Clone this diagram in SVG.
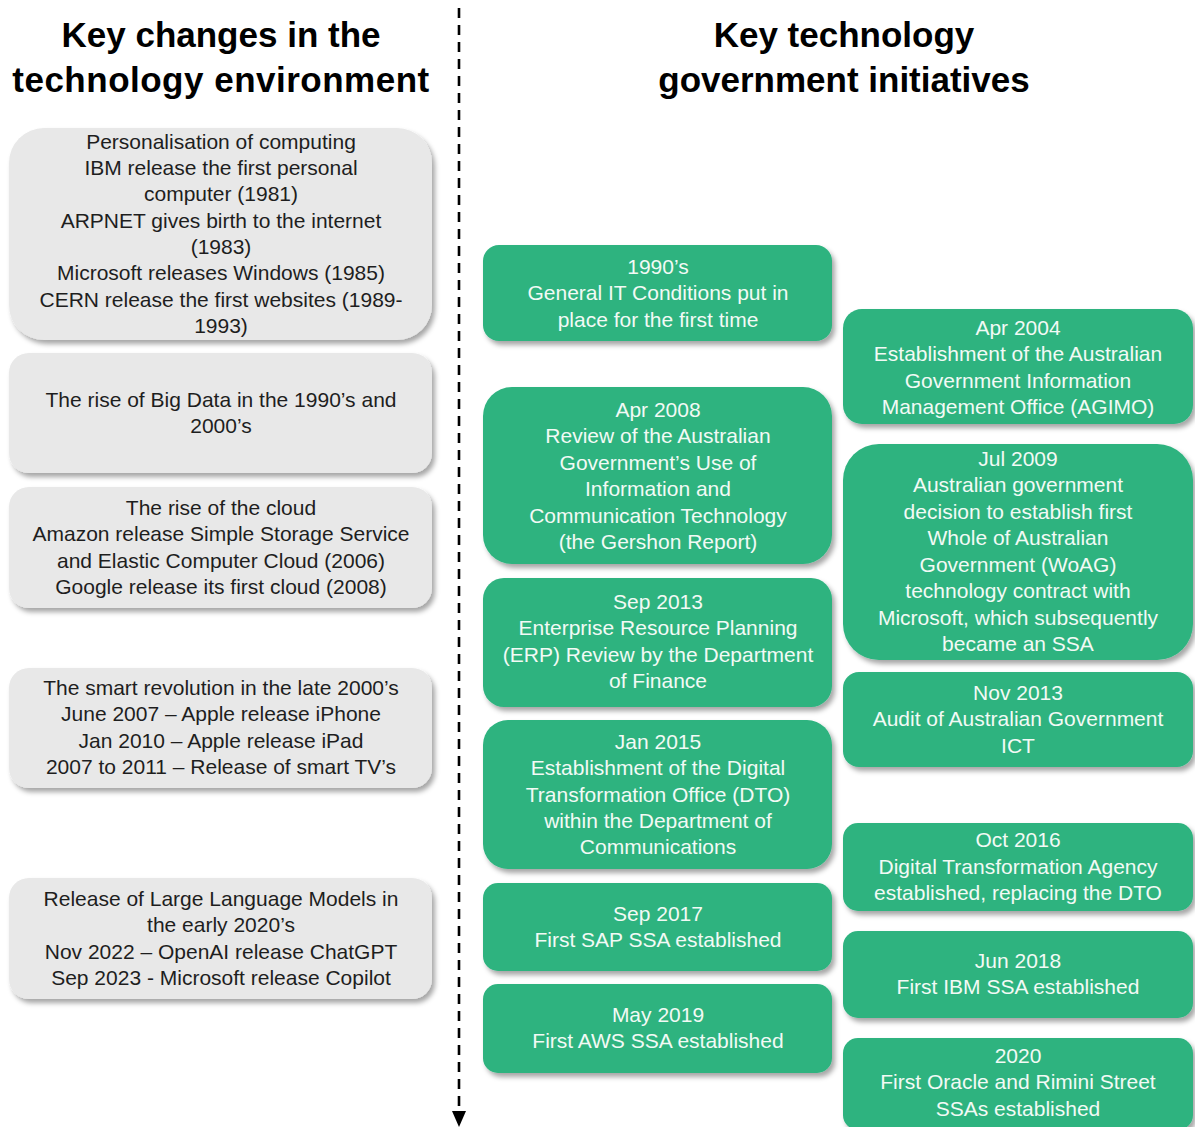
<svg xmlns="http://www.w3.org/2000/svg" width="1195" height="1127" viewBox="0 0 1195 1127">
  <defs>
    <filter id="shadow" x="-10%" y="-10%" width="125%" height="130%">
      <feDropShadow dx="3" dy="4" stdDeviation="2.5" flood-color="#000" flood-opacity="0.35"/>
    </filter>
    <marker id="arrow" viewBox="0 0 16 14" refX="16" refY="7" markerWidth="16" markerHeight="14" markerUnits="userSpaceOnUse" orient="auto">
      <path d="M0,0 L16,7 L0,14 Z" fill="#000"/>
    </marker>
  </defs>
  <style>
    .title { font-family: "Liberation Sans", Arial, sans-serif; font-weight: bold; font-size: 35px; fill: #000; text-anchor: middle; }
    .env rect { fill: #e8e8e8; filter: url(#shadow); }
    .env text { font-family: "Liberation Sans", Arial, sans-serif; font-size: 21px; fill: #1e1e1e; text-anchor: middle; }
    .gov rect { fill: #2db37f; filter: url(#shadow); }
    .gov text { font-family: "Liberation Sans", Arial, sans-serif; font-size: 21px; fill: #f2faf5; text-anchor: middle; }
  </style>
  <rect width="1195" height="1127" fill="#fff"/>

  <!-- column headings -->
  <g id="heading-left">
    <text class="title" x="221" y="47">Key changes in the</text>
    <text class="title" x="221" y="92" letter-spacing="0.5">technology environment</text>
  </g>
  <g id="heading-right">
    <text class="title" x="844" y="47">Key technology</text>
    <text class="title" x="844" y="92">government initiatives</text>
  </g>

  <!-- timeline axis -->
  <g id="connectors">
    <line x1="459" y1="8" x2="459" y2="1127" stroke="#000" stroke-width="2.6" stroke-dasharray="10 7" marker-end="url(#arrow)"/>
  </g>

  <!-- technology environment changes -->
  <g id="env-personal-computing" class="env">
    <rect x="9" y="128" width="423" height="212" rx="35"/>
    <text x="221" y="149">Personalisation of computing</text>
    <text x="221" y="175">IBM release the first personal</text>
    <text x="221" y="201">computer (1981)</text>
    <text x="221" y="228">ARPNET gives birth to the internet</text>
    <text x="221" y="254">(1983)</text>
    <text x="221" y="280">Microsoft releases Windows (1985)</text>
    <text x="221" y="307">CERN release the first websites (1989-</text>
    <text x="221" y="333">1993)</text>
  </g>
  <g id="env-big-data" class="env">
    <rect x="9" y="353" width="423" height="120" rx="20"/>
    <text x="221" y="407">The rise of Big Data in the 1990’s and</text>
    <text x="221" y="433">2000’s</text>
  </g>
  <g id="env-cloud" class="env">
    <rect x="9" y="487" width="423" height="121" rx="20"/>
    <text x="221" y="515">The rise of the cloud</text>
    <text x="221" y="541">Amazon release Simple Storage Service</text>
    <text x="221" y="568">and Elastic Computer Cloud (2006)</text>
    <text x="221" y="594">Google release its first cloud (2008)</text>
  </g>
  <g id="env-smart" class="env">
    <rect x="9" y="668" width="423" height="120" rx="20"/>
    <text x="221" y="695">The smart revolution in the late 2000’s</text>
    <text x="221" y="721">June 2007 – Apple release iPhone</text>
    <text x="221" y="748">Jan 2010 – Apple release iPad</text>
    <text x="221" y="774">2007 to 2011 – Release of smart TV’s</text>
  </g>
  <g id="env-llm" class="env">
    <rect x="9" y="878" width="423" height="121" rx="20"/>
    <text x="221" y="906">Release of Large Language Models in</text>
    <text x="221" y="932">the early 2020’s</text>
    <text x="221" y="959">Nov 2022 – OpenAI release ChatGPT</text>
    <text x="221" y="985">Sep 2023 - Microsoft release Copilot</text>
  </g>

  <!-- government initiatives, first column -->
  <g id="gov-1990s" class="gov">
    <rect x="483" y="245" width="349" height="96" rx="16"/>
    <text x="658" y="274">1990’s</text>
    <text x="658" y="300">General IT Conditions put in</text>
    <text x="658" y="327">place for the first time</text>
  </g>
  <g id="gov-2008" class="gov">
    <rect x="483" y="387" width="349" height="177" rx="29"/>
    <text x="658" y="417">Apr 2008</text>
    <text x="658" y="443">Review of the Australian</text>
    <text x="658" y="470">Government’s Use of</text>
    <text x="658" y="496">Information and</text>
    <text x="658" y="523">Communication Technology</text>
    <text x="658" y="549">(the Gershon Report)</text>
  </g>
  <g id="gov-2013-erp" class="gov">
    <rect x="483" y="578" width="349" height="129" rx="21"/>
    <text x="658" y="609">Sep 2013</text>
    <text x="658" y="635">Enterprise Resource Planning</text>
    <text x="658" y="662">(ERP) Review by the Department</text>
    <text x="658" y="688">of Finance</text>
  </g>
  <g id="gov-2015" class="gov">
    <rect x="483" y="720" width="349" height="149" rx="25"/>
    <text x="658" y="749">Jan 2015</text>
    <text x="658" y="775">Establishment of the Digital</text>
    <text x="658" y="802">Transformation Office (DTO)</text>
    <text x="658" y="828">within the Department of</text>
    <text x="658" y="854">Communications</text>
  </g>
  <g id="gov-2017" class="gov">
    <rect x="483" y="883" width="349" height="88" rx="15"/>
    <text x="658" y="921">Sep 2017</text>
    <text x="658" y="947">First SAP SSA established</text>
  </g>
  <g id="gov-2019" class="gov">
    <rect x="483" y="984" width="349" height="89" rx="15"/>
    <text x="658" y="1022">May  2019</text>
    <text x="658" y="1048">First AWS SSA established</text>
  </g>

  <!-- government initiatives, second column -->
  <g id="gov-2004" class="gov">
    <rect x="843" y="309" width="350" height="115" rx="19"/>
    <text x="1018" y="335">Apr 2004</text>
    <text x="1018" y="361">Establishment of the Australian</text>
    <text x="1018" y="388">Government Information</text>
    <text x="1018" y="414">Management Office (AGIMO)</text>
  </g>
  <g id="gov-2009" class="gov">
    <rect x="843" y="444" width="350" height="216" rx="36"/>
    <text x="1018" y="466">Jul 2009</text>
    <text x="1018" y="492">Australian government</text>
    <text x="1018" y="519">decision to establish first</text>
    <text x="1018" y="545">Whole of Australian</text>
    <text x="1018" y="572">Government (WoAG)</text>
    <text x="1018" y="598">technology contract with</text>
    <text x="1018" y="625">Microsoft, which subsequently</text>
    <text x="1018" y="651">became an SSA</text>
  </g>
  <g id="gov-2013-audit" class="gov">
    <rect x="843" y="672" width="350" height="95" rx="16"/>
    <text x="1018" y="700">Nov 2013</text>
    <text x="1018" y="726">Audit of Australian Government</text>
    <text x="1018" y="753">ICT</text>
  </g>
  <g id="gov-2016" class="gov">
    <rect x="843" y="823" width="350" height="88" rx="15"/>
    <text x="1018" y="847">Oct 2016</text>
    <text x="1018" y="874">Digital Transformation Agency</text>
    <text x="1018" y="900">established, replacing the DTO</text>
  </g>
  <g id="gov-2018" class="gov">
    <rect x="843" y="931" width="350" height="87" rx="15"/>
    <text x="1018" y="968">Jun 2018</text>
    <text x="1018" y="994">First IBM SSA established</text>
  </g>
  <g id="gov-2020" class="gov">
    <rect x="843" y="1038" width="350" height="92" rx="15"/>
    <text x="1018" y="1063">2020</text>
    <text x="1018" y="1089">First Oracle and Rimini Street</text>
    <text x="1018" y="1116">SSAs established</text>
  </g>
</svg>
